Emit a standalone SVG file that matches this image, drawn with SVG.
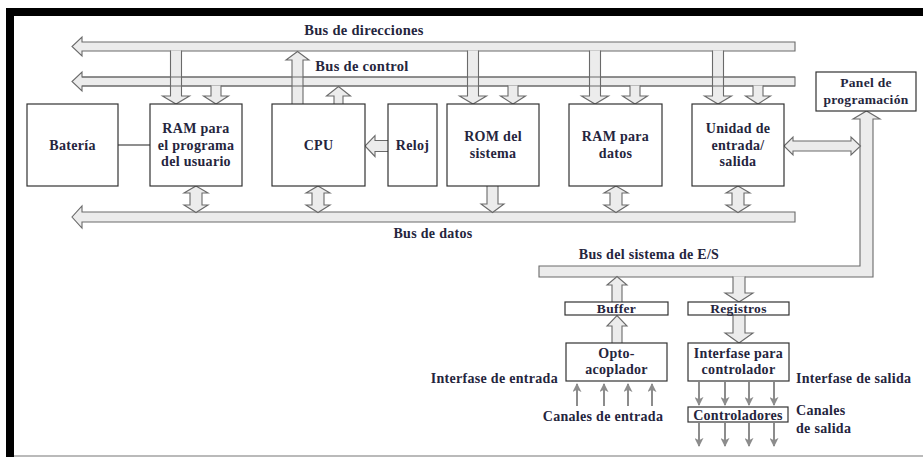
<svg xmlns="http://www.w3.org/2000/svg" width="923" height="457" viewBox="0 0 923 457">
<defs>
<style>
.bus{fill:#ececec;stroke:#6a6a6a;stroke-width:1.1;stroke-linejoin:miter}
.box{fill:#fff;stroke:#333;stroke-width:1.2}
text{font-family:'Liberation Serif','DejaVu Serif',serif;font-weight:bold;font-size:14px;fill:#25253d;letter-spacing:0.3px}
.c{text-anchor:middle}
.thin{stroke:#8c8c8c;stroke-width:2;fill:none;marker-end:url(#ah)}
.ln{stroke:#333;stroke-width:1.1;fill:none}
</style>
<marker id="ah" viewBox="0 0 10 10" refX="9" refY="5" markerWidth="4.5" markerHeight="4.5" orient="auto" markerUnits="strokeWidth">
<path d="M0,0 L10,5 L0,10 L2.5,5 Z" fill="#8c8c8c"/>
</marker>
</defs>
<rect width="923" height="457" fill="#fff"/>
<g id="frame">
<rect x="6" y="8" width="917" height="8" fill="#000"/>
<rect x="6" y="8" width="8" height="449" fill="#000"/>
<line x1="14" y1="456" x2="923" y2="456" stroke="#777" stroke-width="1.2"/>
</g>

<g id="connectors">
<path class="bus" d="M795,42 H82 V37 L72,46.5 L82,56 V51 H795 Z"/>
<path class="bus" d="M795,77 H82 V72 L72,81.5 L82,91 V86 H795 Z"/>
<path class="bus" d="M795,212 H82 V206 L72,217 L82,228 V222 H795 Z"/>
<path class="bus" d="M539,266 H860 V119 H853 L866.5,111 L880,119 H873 V277 H539 Z"/>

<path class="bus" d="M170.5,50.5 V96 H162.5 L176,104 L189.5,96 H181.5 V50.5"/>
<path class="bus" d="M467.5,50.5 V96 H459.5 L473,104 L486.5,96 H478.5 V50.5"/>
<path class="bus" d="M589.5,50.5 V96 H581.5 L595,104 L608.5,96 H600.5 V50.5"/>
<path class="bus" d="M712.5,50.5 V96 H704.5 L718,104 L731.5,96 H723.5 V50.5"/>
<path class="bus" d="M292,104 V60 H286 L297.5,51.5 L309,60 H303 V104"/>
<path class="ln" style="stroke:#6a6a6a" d="M82,77 H795 M82,86 H795"/>

<path class="bus" d="M211,85.5 V96 H203.5 L216,104 L228.5,96 H221 V85.5"/>
<path class="bus" d="M508,85.5 V96 H500.5 L513,104 L525.5,96 H518 V85.5"/>
<path class="bus" d="M630,85.5 V96 H622.5 L635,104 L647.5,96 H640 V85.5"/>
<path class="bus" d="M753,85.5 V96 H745.5 L758,104 L770.5,96 H763 V85.5"/>
<path class="bus" d="M334,104 V96 H326.5 L338.5,86.5 L350.5,96 H343 V104"/>

<path class="bus" d="M388,140.5 H375 V135.5 L365,146 L375,156.5 V151.5 H388"/>
<line class="ln" x1="118" y1="145" x2="150" y2="145"/>

<path class="bus" d="M196,186 L208,193 H202 V205 H208 L196,212.5 L184,205 H190 V193 H184 Z"/>
<path class="bus" d="M318,186 L330,193 H324 V205 H330 L318,212.5 L306,205 H312 V193 H306 Z"/>
<path class="bus" d="M487,186 V204 H481 L492.5,212.5 L504,204 H498 V186"/>
<path class="bus" d="M616,186 L628,193 H622 V205 H628 L616,212.5 L604,205 H610 V193 H604 Z"/>
<path class="bus" d="M738,186 L750,193 H744 V205 H750 L738,212.5 L726,205 H732 V193 H726 Z"/>

<path class="bus" d="M784,146 L793,137 V141 H851 V137 L860.5,146 L851,155 V151 H793 V155 Z"/>

<path class="bus" d="M612,302 V285 H607 L617,276.5 L627,285 H622 V302"/>
<path class="bus" d="M733,276.5 V293 H725 L739,302 L753,293 H745 V276.5"/>
<path class="bus" d="M612,343 V326 H607 L617,315.5 L627,326 H622 V343"/>
<path class="bus" d="M733,315 V333 H725 L739,343 L753,333 H745 V315"/>

<line class="thin" x1="577" y1="406" x2="577" y2="384"/>
<line class="thin" x1="604" y1="406" x2="604" y2="384"/>
<line class="thin" x1="628" y1="406" x2="628" y2="384"/>
<line class="thin" x1="652" y1="406" x2="652" y2="384"/>
<line class="thin" x1="699" y1="382" x2="699" y2="405"/>
<line class="thin" x1="725" y1="382" x2="725" y2="405"/>
<line class="thin" x1="749" y1="382" x2="749" y2="405"/>
<line class="thin" x1="774" y1="382" x2="774" y2="405"/>
<line class="thin" x1="699" y1="423" x2="699" y2="446"/>
<line class="thin" x1="725" y1="423" x2="725" y2="446"/>
<line class="thin" x1="749" y1="423" x2="749" y2="446"/>
<line class="thin" x1="774" y1="423" x2="774" y2="446"/>
</g>

<g id="bus-labels">
<text class="c" x="364" y="35" style="font-size:14.5px">Bus de direcciones</text>
<text class="c" x="362" y="71" style="font-size:14.5px">Bus de control</text>
<text class="c" x="433" y="238">Bus de datos</text>
<text class="c" x="649" y="259">Bus del sistema de E/S</text>
<text x="558" y="383" text-anchor="end">Interfase de entrada</text>
<text class="c" x="603" y="421">Canales de entrada</text>
<text x="796" y="383">Interfase de salida</text>
<text x="796" y="415">Canales</text>
<text x="796" y="433">de salida</text>
</g>

<g id="bateria"><rect class="box" x="27" y="104" width="91" height="82"/><text class="c" x="72.5" y="150">Batería</text></g>
<g id="ram-programa"><rect class="box" x="150" y="104" width="92" height="82"/><text class="c" x="196" y="133">RAM para</text><text class="c" x="196" y="149.5">el programa</text><text class="c" x="196" y="166">del usuario</text></g>
<g id="cpu"><rect class="box" x="272" y="104" width="93" height="82"/><text class="c" x="318.5" y="150">CPU</text></g>
<g id="reloj"><rect class="box" x="388" y="104" width="49" height="82"/><text class="c" x="412.5" y="150">Reloj</text></g>
<g id="rom"><rect class="box" x="447" y="104" width="92" height="82"/><text class="c" x="493" y="141">ROM del</text><text class="c" x="493" y="158">sistema</text></g>
<g id="ram-datos"><rect class="box" x="569" y="104" width="93" height="82"/><text class="c" x="615.5" y="141">RAM para</text><text class="c" x="615.5" y="158">datos</text></g>
<g id="unidad-es"><rect class="box" x="692" y="104" width="92" height="82"/><text class="c" x="738" y="133">Unidad de</text><text class="c" x="738" y="149.5">entrada/</text><text class="c" x="738" y="166">salida</text></g>
<g id="panel"><rect class="box" x="816" y="72" width="100" height="39"/><text class="c" x="866" y="87" style="font-size:13.5px">Panel de</text><text class="c" x="866" y="104" style="font-size:13.5px">programación</text></g>
<g id="buffer"><rect class="box" x="565" y="302" width="103" height="13"/><text class="c" x="616.5" y="313" style="font-size:13.5px">Buffer</text></g>
<g id="registros"><rect class="box" x="688" y="302" width="101" height="13"/><text class="c" x="738.5" y="313" style="font-size:13.5px">Registros</text></g>
<g id="opto"><rect class="box" x="566" y="343" width="101" height="38"/><text class="c" x="616.5" y="358">Opto-</text><text class="c" x="616.5" y="374">acoplador</text></g>
<g id="interfase-ctrl"><rect class="box" x="688" y="343" width="101" height="38"/><text class="c" x="738.5" y="358">Interfase para</text><text class="c" x="738.5" y="374">controlador</text></g>
<g id="controladores"><rect class="box" x="688" y="407" width="100" height="15"/><text class="c" x="738" y="419.5" style="font-size:14px">Controladores</text></g>
</svg>
